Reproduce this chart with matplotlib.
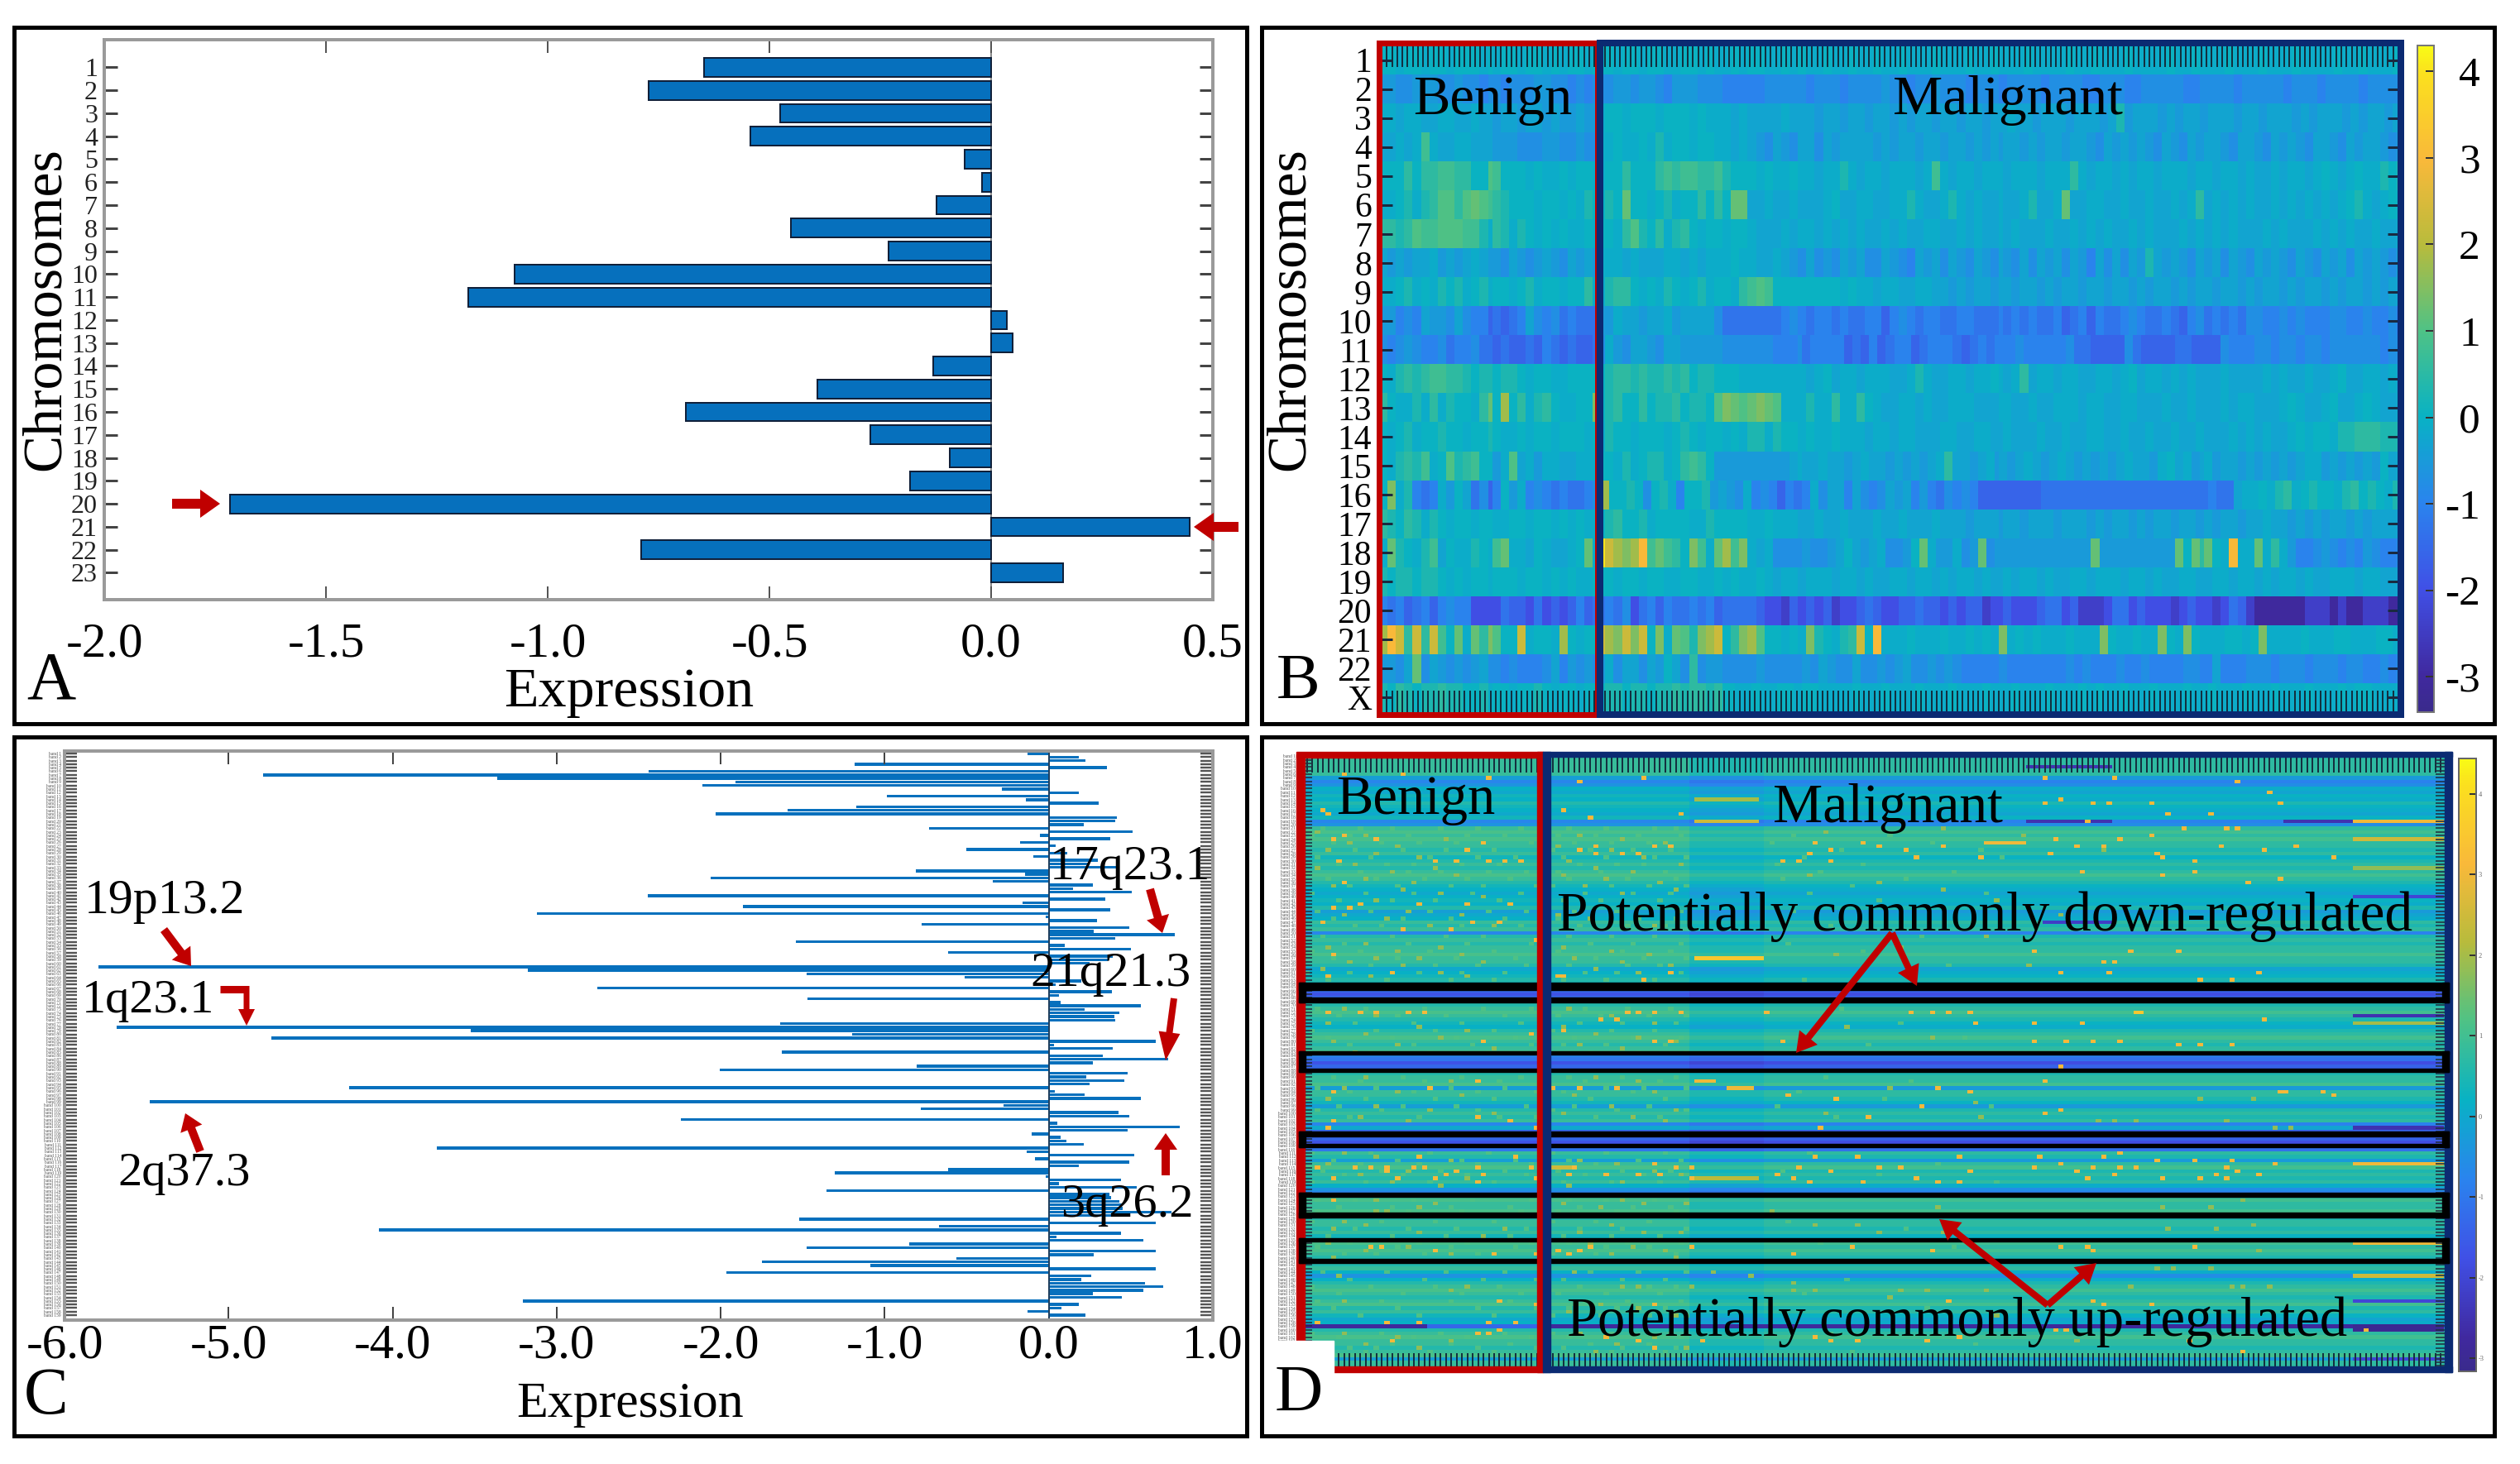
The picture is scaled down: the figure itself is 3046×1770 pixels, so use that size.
import numpy as np
import matplotlib
matplotlib.use("Agg")
import matplotlib.pyplot as plt
from matplotlib.colors import LinearSegmentedColormap
from matplotlib.patches import Rectangle, FancyArrowPatch

plt.rcParams["font.family"] = ["Liberation Serif", "DejaVu Serif"]
plt.rcParams["axes.unicode_minus"] = False

W, H = 3046, 1770
PX = 72 / 100  # one pixel in points

# panel A: mean expression per chromosome
chromosomes = [str(i) for i in range(1, 24)]
chrom_values = [-0.647, -0.773, -0.476, -0.542, -0.06, -0.02, -0.124, -0.451, -0.231, -1.075, -1.18, 0.036,
                0.049, -0.131, -0.391, -0.689, -0.273, -0.093, -0.182, -1.716, 0.447, -0.789, 0.162]
a_ticks = [-2.0, -1.5, -1.0, -0.5, 0.0, 0.5]

# panel C: mean expression per cytoband, top to bottom
band_values = [
    -0.128, 0.183, 0.224, -1.185, 0.352, -2.44, -4.79, -3.36, -1.91, -2.11, -0.284, 0.183, -0.989, -0.142, 0.302,
    -1.176, -1.593, -2.032, 0.416, 0.403, 0.215, -0.728, 0.513, -0.055, 0.375, -0.174, 0.04, -0.503, 0.114, -0.096,
    0.3, 0.25, 0.42, -0.81, -0.146, -2.06, -0.339, 0.27, 0.15, 0.508, -2.444, 0.343, -0.16, -1.863, 0.375, -3.121,
    -0.018, 0.293, -0.773, 0.49, 0.275, 0.769, 0.407, -1.542, 0.096, 0.499, -0.613, 0.39, 0.36, 0.25, -5.794,
    -3.176, -1.474, -0.513, 0.2, 0.04, -2.75, 0.384, 0.06, -1.469, 0.07, 0.563, 0.22, 0.43, 0.4, 0.407, -1.638,
    -5.68, -3.524, -1.2, -4.737, 0.65, 0.03, 0.389, -1.625, 0.33, 0.728, 0.27, -0.805, -2.005, 0.48, 0.229, 0.458,
    0.247, -4.265, 0.037, 0.22, 0.563, -5.483, -0.275, -0.778, 0.426, 0.49, -2.243, 0.05, 0.8, 0.48, -0.105, 0.07,
    0.105, 0.215, -3.73, -0.137, 0.522, -0.082, 0.49, 0.183, -0.613, -1.304, -0.018, 0.44, 0.06, 0.535, -1.355,
    0.37, 0.38, 0.43, 0.45, 0.45, 0.746, 0.4, -1.524, 0.65, -0.668, -4.082, 0.44, 0.046, 0.577, -0.851, -1.478,
    0.65, 0.275, -0.563, -1.748, -1.089, 0.65, -1.963, 0.26, 0.197, 0.586, 0.696, 0.577, 0.27, 0.444, -3.208,
    0.183, 0.078, -0.128, 0.224]
c_ticks = [-6.0, -5.0, -4.0, -3.0, -2.0, -1.0, 0.0, 1.0]

# shared heatmap levels: one letter per cell
LEVELS = dict(a=-3.0, b=-2.4, c=-2.0, d=-1.6, e=-1.3, f=-1.0, g=-0.75, h=-0.5, i=-0.3, j=-0.12, k=0.05, l=0.3,
              m=0.55, n=0.8, o=1.0, p=1.2, q=1.45, r=1.8, s=2.3, t=3.0, u=4.0)

# panel B: chromosome x sample, benign part and malignant part
b_labels = [str(i) for i in range(1, 23)] + ["X"]
b_benign = [
    "kkjkkjkkjkkkjkjkkjkkjkjkkjk", "hhgghhhgghggfggfggghhggfgfg", "jjijjiijjiijiihiihiihihhihh",
    "iijijnjiijjiiihhhggghhgghgg", "kkkmkmmnnmmkkonkkkjkjjkjkkj", "jjkljlmoomoponmlkkkjkkjkjlk",
    "mmlmonnooonnljmljlkjkjkjjkj", "ihihiijhihijihhgihghihgihih", "jjkljkjlkljkljkkjkljkkjkkmj",
    "hhfgfihhgigffdedefigfgefeee", "gfghgffgeffgeededdedfededde", "kjlmlmnnmmlkllkllkjkkjjkkkk",
    "mkjjljmjlkkjmpkrkmjlmkjjkkq", "kjkljkklkkjkklkjjkjkkjkkkjk", "kjlmlnjkolmnkkhjoijhjjiijjj",
    "kqjlfefjhkiegdfkhjfgfefeefg", "mlkmljlkjkkjkkjjkkjkkjkjkjj", "jplkjlnikjjlkjnpjjikjiijkpj",
    "lkllkllkjkjkkjkkkjkkjkjkjjk", "fefdefdfgffcccceddcecdcdfde", "rtsmsmsnkpjpmqokksjkkjrkjkk",
    "hhgipgihghghiggfgfffgifhghg", "lkmlkllmllkkljkkjkklkjkkjkk"]
b_malignant = [
    "kkjkkjkkjjkkjkjjkjkkjjkjkjjkjjkjjkjjkjjjkjjjkjjkjjjkjjjjkjjkjjjkjjjjkjjkjjjkjjjkjjjkjjjjkjjkjjjk",
    "gghhghhgfhhhgggfffffgggggfgggfgggghggfgghgggfgggfggggfggggffgggffgggggffggggfgggggfgggfggggfgggg",
    "jkkjkkkjkkkjkjjjijiiiijiiihiihiihiihihiihiihiihiijiihiiihiiihilhiiihihiihiiihiihiiihihiiihihiihi",
    "jjkjjkjljkkjkkjjijihgihgiigihiiiihihiihiihiihihihiihihiihiihgihihihgihgihiihgiihgihihgiihgihiihgh",
    "jkkmkkkmnmnnmmnlkkkjkjjkjjijjljijjijjjijnjijjijjjijjjijjjmjijjijijjijjjijjijjijiijijjijkjijkjjlkl",
    "klkpkkjkljkkmkmkppiijiijiiijkiijjiijjljiijljijiijiijliijpiijjiijiijiijijmijijijiijijijijijkljijkk",
    "kkjmolkmjlmkjkkjkkjiiijijjijijijiijijiijjiijijiijijiiijiijijijiijijiiijijijijiiijijiiijijijiijiij",
    "jjjijiiijjijijjjkjjiijihgighgihiggihgfihigihgihgihgigihigihfigigihlihihgihigihgihihgihgihigihihgi",
    "jlmmkjkjlkjkljkkjmnonkkkkkkkkjkjjijjiijjiihihiihiihiihihiihiihiihihiihihiihiihihiihihiihihiihihii",
    "hhjiihiijhiiiigeeeeeeefgfeffefeeffdfgfeffeeffeeefefefeefdefdfeefgfeefedfgefefeggffgfgfffggffgffgf",
    "gjhgiihgiihhhhhggggggfffgeffffdedfdeffdefffedefefffgfffffgeeddddgeddddeeddddgfffggfggfggfggggggfgg",
    "klmmlmllmlmkllkkkjjjjjjjjijkijjijjjiijljiijjijjkjijmijjijjiijjijkijjijijiiijiiiijijiijiijkiijjiji",
    "klmkkmkllmkllkoqpopqpojjjljjmjjmkjiijjijiijjjiiijjiijiijjjijjiijjiiijiijiiijijjiiijkjiijkiijkjiij",
    "jlkkjkkkjklkjkkjkjlljlkkjkjjkjjjijjijjiiijjiijjiijiiijiijiijjiijiijiijiijiiijijijiijkjkkjllmmmlll",
    "kkjljklljkmnmkhhhhhhhhhijiijiihijiihihihijmiihijhihijihijihihihijiihjkijhijhiihihihihijjhihihihkij",
    "rkklkgkljfkklhihgjfgfdfefjgiifigfgihifhfegfgfdddddddeeeeeeeeeeeeeeeeeeeefeeijjkjlmjklkkjlmklkjl",
    "klmkkljkkkkjjlkkkkjjkjjjiijiijiiijiijiiijiiihiiihiihiiihiiihihiihihiihiihihiihiijiihihihiihihiiii",
    "usrqrtnpnmkqnjprnqjijgggghgghikihijgghkpjhhjghpghhhhhhhhhhhhphhhhhhhhhpkpmpkjtjjpjmjhffghgfgfhgffg",
    "kkjkkjkkjjkkjjkjkjjkjijjijjjijjijiijjijjijijjijiijijjijiijjijjjijjijiijjiijjijjijijjijiijjjijjiii",
    "efegcefdfeefefdeeeedccbdcdcdbccdedccddeddcdcddbccdcccdeecdbbbceecdcccbcdccbcedbaaaaaabbbabaabbbaa",
    "srqsqskqjpolqrskmqrokkjkjqlkjlmsktjjjkjjjkjjkjkjqjkjkjjjkjjjqkjjkjjqkjqkjjjkkjkqjjjjkjjjkkjjjkkj",
    "hjgiigihkigmghhgggghggggghgihggigghghigghghgfffffgfffffffgfgfffgffgffffggffifffgggfgggfgggfggffgfg",
    "kllkllkllmlmmlmkkjjkjjkkjkkjjjjkjjjkjjjkjjjkjjjkjjjkjjjkjjjkjkjjkjjjkjjjkjjkjjjkjjjkjjjkjjjkjkkjjjk"]
b_cbar_ticks = [4, 3, 2, 1, 0, -1, -2, -3]

# panel D: cytoband x sample, base level per row, then the stripes and single cells that stand out
d_row_levels = ("mmmmmm" "hfg" "jikjlkjik" "fg" "mnmnm" "mlmklml" "mnmlk" "jijkj" "lhij" "mlm" "f" "lml" "mmnmml"
                "ijkl" "kedcde" "lmnmlkjlmnmlmn" "fecdf" "l" "mmnhmmlkhlmlmfi" "dcdcde" "mlhmnlmlmjgf" "mnmmnl"
                "lmmlmk" "mnmnml" "klmjgjlmnmlmnlmkijdlmnmmlmnhmmm")
d_n_cols = 215
# first col, last col, level shift of the sample groups
d_groups = [(0, 73, 0.3), (73, 87, 0.0), (87, 197, 0.2), (197, 215, 0.2)]
# row, first col, last col, value
d_stripes = [(12, 74, 86, 2.0), (18, 74, 86, 2.5), (56, 74, 87, 3.5), (3, 136, 152, -2.5), (18, 136, 152, -2.5),
             (18, 184, 197, -2.5), (18, 197, 214, 3.0), (23, 197, 214, 2.5), (24, 128, 136, 3.0),
             (31, 197, 214, 1.8), (39, 197, 214, -2.0), (46, 139, 152, -2.2), (71, 156, 158, 3.5),
             (72, 197, 214, -2.5), (74, 197, 214, 2.0), (103, 197, 214, -2.5), (113, 197, 214, 3.0),
             (135, 197, 214, 3.0), (144, 197, 214, 2.5), (151, 197, 214, -2.0), (158, 1, 24, -2.8),
             (158, 47, 197, -2.8), (158, 197, 214, -3.0), (159, 197, 214, -3.0), (167, 197, 214, -2.0),
             (90, 74, 78, 3.0), (92, 80, 85, 3.0), (114, 47, 52, 2.5), (117, 74, 86, 2.2)]
d_orange = [(5, 8), (5, 19), (6, 35), (7, 52), (6, 64), (15, 4), (16, 5), (16, 71), (15, 49), (17, 54), (22, 8),
            (23, 14), (23, 6), (24, 34), (26, 31), (29, 7), (29, 29), (29, 35), (29, 38), (29, 41), (29, 25),
            (25, 55), (25, 66), (25, 69), (26, 52), (27, 55), (27, 63), (27, 60), (24, 96), (26, 99), (24, 105),
            (25, 108), (26, 113), (27, 95), (29, 90), (29, 93), (29, 99), (35, 8), (41, 11), (41, 22), (41, 31),
            (41, 39), (46, 4), (42, 6), (42, 9), (46, 32), (46, 37), (48, 19), (48, 28), (51, 44), (55, 6),
            (60, 17), (61, 5), (61, 48), (61, 49), (60, 69), (62, 64), (71, 11), (71, 14), (71, 20), (71, 23),
            (71, 5), (71, 61), (71, 63), (71, 66), (71, 71), (71, 87), (73, 56), (73, 59), (79, 90), (79, 66),
            (79, 69), (79, 34), (77, 43), (76, 49), (6, 139), (6, 152), (7, 175), (10, 181), (13, 139), (12, 142),
            (13, 148), (13, 151), (13, 159), (16, 170), (16, 162), (13, 183), (18, 147), (20, 165), (20, 173),
            (20, 175), (22, 159), (23, 141), (23, 153), (25, 145), (25, 150), (25, 172), (26, 180), (27, 160),
            (28, 161), (29, 167), (32, 167), (33, 161), (35, 177), (34, 183), (27, 140), (28, 193), (25, 186),
            (32, 146), (28, 127), (25, 120), (28, 115), (26, 113), (57, 152), (57, 150), (60, 151), (60, 142),
            (62, 168), (62, 174), (60, 179), (54, 137), (54, 155), (54, 164), (71, 114), (71, 118), (71, 121),
            (71, 125), (73, 180), (74, 146), (74, 137), (74, 126), (79, 153), (79, 148), (79, 143), (79, 137),
            (80, 164), (80, 168), (80, 174), (86, 142), (90, 33), (93, 6), (92, 24), (92, 59), (92, 52), (92, 47),
            (94, 91), (95, 100), (101, 39), (100, 33), (101, 6), (100, 106), (103, 97), (103, 5), (103, 44),
            (111, 22), (111, 40), (111, 96), (111, 104), (114, 16), (114, 10), (114, 13), (114, 21), (114, 23),
            (114, 3), (114, 43), (115, 29), (114, 33), (116, 34), (116, 27), (115, 16), (114, 51), (113, 66),
            (114, 70), (114, 73), (116, 50), (116, 57), (116, 63), (116, 67), (117, 73), (114, 93), (115, 99),
            (114, 108), (114, 112), (116, 89), (117, 92), (118, 95), (117, 6), (117, 18), (117, 25), (118, 33),
            (117, 44), (118, 105), (123, 6), (136, 13), (136, 15), (137, 25), (138, 36), (138, 44), (137, 52),
            (136, 54), (138, 50), (137, 48), (136, 73), (138, 92), (136, 103), (151, 37), (152, 44), (152, 66),
            (157, 3), (157, 16), (157, 22), (157, 35), (157, 40), (160, 33), (160, 35), (159, 37), (162, 17),
            (162, 63), (164, 66), (162, 75), (162, 99), (162, 104), (161, 57), (161, 96), (90, 139), (93, 183),
            (93, 184), (93, 191), (94, 193), (93, 125), (92, 119), (98, 142), (99, 139), (97, 116), (111, 123),
            (111, 138), (111, 150), (110, 153), (112, 160), (112, 167), (112, 174), (113, 142), (114, 137),
            (115, 125), (114, 148), (114, 153), (114, 156), (114, 173), (113, 182), (115, 145), (116, 152),
            (117, 147), (117, 161), (117, 168), (116, 171), (117, 173), (115, 175), (116, 179), (117, 115),
            (118, 119), (118, 123), (136, 142), (136, 147), (137, 148), (136, 167), (137, 118), (151, 121),
            (152, 159), (151, 148), (152, 150), (159, 141), (159, 143), (162, 166), (161, 123), (162, 117),
            (165, 176), (159, 199)]
d_green = [(21, 3), (22, 12), (23, 27), (24, 9), (25, 18), (26, 5), (27, 14), (28, 22), (30, 10), (31, 3), (31, 25),
           (32, 17), (33, 29), (34, 12), (35, 21), (36, 6), (37, 19), (38, 26), (39, 34), (40, 14), (43, 20), (44, 8),
           (44, 30), (45, 16), (47, 24), (47, 36), (52, 12), (53, 5), (53, 26), (54, 18), (55, 30), (56, 14), (56, 22),
           (57, 9), (57, 34), (58, 19), (59, 4), (60, 26), (61, 13), (61, 31), (22, 52), (23, 60), (24, 68), (25, 48),
           (26, 58), (28, 64), (29, 50), (30, 71), (31, 55), (32, 62), (33, 49), (34, 57), (35, 67), (36, 53), (37, 70),
           (38, 60), (44, 48), (45, 54), (47, 66), (53, 49), (54, 58), (55, 65), (56, 51), (57, 60), (58, 69), (59, 55),
           (60, 63), (70, 8), (72, 14), (74, 5), (75, 22), (76, 31), (77, 12), (78, 26), (79, 6), (80, 18), (81, 36),
           (82, 10), (70, 50), (72, 58), (74, 66), (75, 49), (77, 55), (78, 63), (79, 70), (80, 52), (81, 60), (89, 12),
           (90, 28), (92, 8), (93, 18), (94, 30), (95, 5), (97, 14), (98, 24), (99, 36), (100, 11), (101, 20), (89, 55),
           (90, 63), (93, 66), (94, 51), (97, 58), (98, 70), (99, 49), (100, 62), (101, 68), (110, 8), (111, 14),
           (112, 28), (113, 5), (115, 20), (116, 11), (117, 31), (118, 17), (119, 26), (112, 52), (113, 59), (115, 66),
           (116, 71), (118, 60), (119, 50), (123, 14), (124, 25), (125, 22), (126, 14), (126, 16), (127, 26), (123, 60),
           (124, 49), (125, 56), (124, 64), (124, 72), (129, 8), (130, 12), (131, 6), (132, 22), (133, 34), (131, 38),
           (130, 58), (132, 52), (132, 64), (132, 71), (130, 96), (132, 108), (135, 5), (136, 20), (137, 12), (138, 28),
           (139, 6), (135, 54), (136, 62), (137, 68), (138, 58), (139, 70), (143, 51), (144, 7), (143, 77), (144, 84),
           (147, 60), (147, 63), (147, 73), (148, 92), (148, 96), (148, 112), (148, 28), (147, 31), (151, 8), (152, 56),
           (153, 63), (154, 50), (155, 70), (160, 8), (161, 18), (162, 28), (163, 12), (164, 22), (165, 5), (160, 52),
           (161, 66), (163, 59), (164, 72), (165, 55), (95, 168), (95, 178), (94, 193), (100, 127), (101, 149),
           (101, 152), (101, 156), (101, 173), (103, 182), (103, 185), (125, 161), (125, 170), (125, 119), (123, 176),
           (131, 162), (131, 171), (130, 178), (137, 179), (136, 142), (142, 160), (142, 163), (142, 170), (147, 155),
           (147, 174), (147, 176), (147, 181), (148, 128), (148, 117), (33, 95), (35, 108), (37, 120), (40, 130),
           (44, 142), (50, 128), (53, 112), (55, 100), (58, 136), (75, 102), (78, 118), (92, 110), (96, 126), (99, 98),
           (126, 88), (130, 104), (132, 120), (146, 92), (150, 110), (155, 130), (162, 145), (20, 120), (21, 98),
           (22, 135), (26, 150)]
# row -> cols of the fainter yellow-green cells
d_light = {
    20: [4, 11, 17, 26, 33, 41, 50, 57, 66, 70], 22: [2, 9, 20, 31, 38, 48, 55, 63, 71, 92, 110],
    24: [6, 15, 22, 29, 43, 51, 58, 65, 88, 118], 26: [10, 19, 27, 36, 47, 54, 62, 69, 101, 127],
    28: [3, 13, 24, 33, 40, 49, 57, 66, 72, 94, 131], 30: [7, 16, 21, 30, 37, 52, 59, 64, 89, 105],
    32: [1, 11, 20, 26, 35, 42, 48, 56, 68, 97, 122], 34: [5, 14, 23, 31, 39, 50, 61, 70, 90, 113],
    36: [9, 18, 28, 34, 44, 47, 58, 65, 72, 103], 38: [2, 12, 21, 32, 41, 53, 62, 69, 95, 128],
    40: [7, 17, 25, 37, 49, 56, 67, 108], 43: [3, 13, 24, 35, 42, 51, 59, 71, 92], 45: [6, 19, 28, 38, 48, 63, 70],
    47: [10, 15, 30, 41, 52, 61, 68, 99], 50: [4, 17, 27, 34, 50, 58, 66, 116], 52: [8, 20, 31, 43, 54, 62, 71, 91],
    54: [2, 11, 24, 36, 48, 60, 69, 105], 56: [6, 18, 29, 40, 55, 64, 72], 58: [13, 25, 33, 42, 50, 61, 67, 121],
    60: [1, 9, 22, 30, 38, 53, 59, 71], 62: [5, 16, 28, 36, 49, 57, 66, 94],
    70: [3, 12, 23, 34, 43, 53, 61, 69, 101], 72: [7, 18, 27, 38, 48, 56, 65, 72], 74: [10, 21, 30, 41, 52, 60, 70, 112],
    76: [2, 14, 25, 36, 47, 58, 66, 96], 78: [5, 17, 29, 40, 51, 62, 71, 124], 80: [9, 21, 32, 43, 49, 57, 68, 106],
    82: [3, 13, 24, 35, 46, 54, 63, 72], 89: [6, 19, 30, 41, 50, 60, 70, 98], 90: [11, 23, 37, 53, 67, 114],
    92: [3, 14, 28, 38, 57, 64, 72], 93: [9, 21, 33, 44, 49, 62, 93], 95: [1, 12, 25, 36, 54, 68, 109],
    97: [7, 19, 29, 42, 51, 65, 89, 129], 98: [3, 15, 33, 47, 59, 72], 100: [9, 22, 37, 44, 55, 67, 100],
    110: [2, 13, 24, 35, 47, 57, 68, 95], 112: [6, 18, 30, 40, 50, 63, 71], 113: [11, 22, 33, 43, 55, 66, 119],
    115: [4, 15, 26, 38, 48, 60, 69, 90], 116: [8, 19, 31, 42, 53, 64, 72, 108], 118: [2, 12, 24, 36, 49, 58, 67, 130],
    123: [3, 10, 21, 32, 43, 50, 57, 66, 72], 125: [7, 17, 28, 39, 52, 62, 69], 126: [3, 20, 30, 41, 48, 59, 70],
    129: [2, 15, 25, 36, 47, 55, 65, 91], 131: [10, 20, 29, 42, 52, 60, 72, 113], 133: [5, 17, 27, 39, 49, 58, 67],
    135: [9, 22, 31, 43, 50, 61, 71, 97], 136: [3, 18, 28, 40, 57, 65, 122], 138: [8, 14, 23, 33, 47, 55, 70],
    143: [4, 16, 27, 38, 54, 63, 72], 145: [9, 23, 34, 44, 49, 60, 68, 102], 147: [2, 13, 25, 37, 52, 65, 70],
    149: [7, 19, 30, 41, 48, 57, 67, 94], 151: [3, 15, 28, 39, 53, 61, 71], 153: [6, 18, 33, 44, 50, 59, 68, 117],
    155: [11, 22, 36, 47, 56, 65, 72], 160: [2, 15, 26, 38, 47, 58, 69, 99], 161: [7, 21, 31, 43, 50, 62, 71],
    163: [4, 17, 28, 39, 54, 65, 126], 164: [9, 14, 33, 44, 49, 60, 70], 165: [12, 24, 36, 46, 58, 68, 103]}
d_cbar_ticks = [4, 3, 2, 1, 0, -1, -2, -3]

# colours taken from the colour bar of panel B
cbar_stops = [(0.0, "#3a2a8c"), (0.054, "#40299f"), (0.184, "#4050e6"), (0.314, "#2a84ee"), (0.443, "#08b2c4"),
              (0.573, "#4fc285"), (0.702, "#b8bb3c"), (0.83, "#f9b93a"), (0.96, "#fbe01e"), (1.0, "#f9fb15")]
parula_like = LinearSegmentedColormap.from_list("parula_like", cbar_stops)

BAR_BLUE = "#0670bd"
RED = "#c00000"
NAVY = "#0b2a72"

fig = plt.figure(figsize=(W / 100, H / 100), dpi=100)


def axes_px(x0, y0, x1, y1):
    return fig.add_axes([x0 / W, 1 - y1 / H, (x1 - x0) / W, (y1 - y0) / H])


def stretch(row, n):
    idx = (np.arange(n) * len(row) / n).astype(int)
    return [LEVELS[row[i]] for i in idx]


def style_spines(ax, color="#9a9a9a", width=4):
    for s in ax.spines.values():
        s.set_color(color)
        s.set_linewidth(width * PX)


# panel A
ax_a = axes_px(126, 48, 1466, 725)
ax_a.barh(range(1, 24), chrom_values, height=0.82, color=BAR_BLUE, edgecolor="#10203a", linewidth=2 * PX)
ax_a.axvline(0, color="#8a8a8a", lw=2 * PX, zorder=0)
ax_a.set_xlim(-2.0, 0.5)
ax_a.set_ylim(24.17, -0.2)
ax_a.set_xticks(a_ticks, [f"{t:.1f}" for t in a_ticks])
ax_a.set_yticks(range(1, 24), chromosomes)
ax_a.tick_params(axis="x", direction="in", top=True, length=16 * PX, width=2 * PX, color="#555555",
                 labelsize=42.5, pad=20)
ax_a.tick_params(axis="y", direction="in", right=True, length=16 * PX, width=3 * PX, color="#444444",
                 labelsize=23, pad=8 * PX, labelcolor="#222222")
style_spines(ax_a)

# panel C
n_bands = len(band_values)
c_top, c_bottom = 908, 1596
first_y, last_y = 911, 1590
band_step = (last_y - first_y) / (n_bands - 1)
ax_c = axes_px(78, c_top, 1466, c_bottom)
ax_c.barh(range(n_bands), band_values, height=0.8, color=BAR_BLUE, linewidth=0)
ax_c.axvline(0, color="#20405f", lw=2 * PX)
ax_c.set_xlim(-6.0, 1.0)
ax_c.set_ylim(n_bands - 1 + (c_bottom - last_y) / band_step, -(first_y - c_top) / band_step)
ax_c.set_xticks(c_ticks, [f"{t:.1f}" for t in c_ticks])
ax_c.set_yticks(range(n_bands), [f"band {i + 1}" for i in range(n_bands)])
ax_c.tick_params(axis="x", direction="in", top=True, length=16 * PX, width=2 * PX, color="#444444",
                 labelsize=42.5, pad=3)
ax_c.tick_params(axis="y", direction="in", right=True, length=15 * PX, width=2.4 * PX, color="#555555",
                 labelsize=4, pad=3, labelcolor="#555555")
style_spines(ax_c)

# panel B
b_matrix = np.array([stretch(ben, 52) + stretch(mal, 192) for ben, mal in zip(b_benign, b_malignant)])
b_vmin, b_vmax = -3.41, 4.3
ax_b = axes_px(1667, 55, 2902, 861)
im_b = ax_b.imshow(b_matrix, cmap=parula_like, vmin=b_vmin, vmax=b_vmax, aspect="auto", interpolation="nearest",
                   extent=(0, 244, 23, 0))
ax_b.set_yticks(np.arange(23) + 0.5, b_labels)
ax_b.set_xticks(np.linspace(0.6, 243.4, 197), [])
ax_b.tick_params(axis="x", direction="in", top=True, length=26 * PX, width=2 * PX, color="#123040")
ax_b.tick_params(axis="y", direction="in", right=True, length=16 * PX, width=3 * PX, color="#1a2a40",
                 labelsize=30, pad=9 * PX)
for s in ax_b.spines.values():
    s.set_visible(False)

cax_b = axes_px(2922, 55, 2942, 861)
cb_b = fig.colorbar(im_b, cax=cax_b, ticks=b_cbar_ticks)
cb_b.ax.tick_params(direction="in", length=10 * PX, width=2 * PX, color="#333333", labelsize=37, pad=56 * PX)
for lab in cb_b.ax.get_yticklabels():
    lab.set_ha("right")
cb_b.outline.set_edgecolor("#777777")
cb_b.outline.set_linewidth(2 * PX)

# panel D
d_vmin, d_vmax = -3.16, 4.44
d_matrix = np.array([[LEVELS[c]] * d_n_cols for c in d_row_levels], dtype=float)
for c0, c1, shift in d_groups:
    d_matrix[:, c0:c1] += shift
for r, c0, c1, val in d_stripes:
    d_matrix[r, c0:c1] = val
for r, cols in d_light.items():
    d_matrix[r, cols] = 1.2
for r, c in d_green:
    d_matrix[r, c] = 1.8
for r, c in d_orange:
    d_matrix[r, c] = 3.1
n_rows_d = d_matrix.shape[0]
ax_d = axes_px(1570, 912, 2960, 1658)
im_d = ax_d.imshow(d_matrix, cmap=parula_like, vmin=d_vmin, vmax=d_vmax, aspect="auto", interpolation="nearest",
                   extent=(0, d_n_cols, n_rows_d, 0))
ax_d.set_xticks(np.arange(d_n_cols) + 0.5, [])
ax_d.set_yticks(np.arange(n_rows_d) + 0.5, [f"band {i + 1}" for i in range(n_rows_d)])
ax_d.tick_params(axis="x", direction="in", top=True, length=22 * PX, width=2 * PX, color="#143040")
ax_d.tick_params(axis="y", direction="in", right=True, length=16 * PX, width=1.6 * PX, color="#203040",
                 labelsize=4, pad=3, labelcolor="#555555")
for s in ax_d.spines.values():
    s.set_visible(False)

cax_d = axes_px(2972, 917, 2993, 1658)
cb_d = fig.colorbar(im_d, cax=cax_d, ticks=d_cbar_ticks)
cb_d.ax.tick_params(direction="in", length=8 * PX, width=2 * PX, color="#333333", labelsize=6, pad=2,
                    labelcolor="#666666")
cb_d.outline.set_edgecolor("#666666")
cb_d.outline.set_linewidth(2 * PX)

# overlay in pixel coordinates for frames, labels and arrows
over = fig.add_axes([0, 0, 1, 1], zorder=10)
over.set_xlim(0, W)
over.set_ylim(H, 0)
over.axis("off")
over.patch.set_alpha(0)


def frame(x0, y0, x1, y1, color="black", lw=5, z=3):
    over.add_patch(Rectangle((x0, y0), x1 - x0, y1 - y0, fill=False, ec=color, lw=lw * PX, zorder=z))


def label(x, y, s, size, **kw):
    over.text(x, y, s, fontsize=size, ha="center", va="center", color="black", zorder=8, **kw)


def arrow(p0, p1, tail=10, head=28, head_len=20):
    over.add_patch(FancyArrowPatch(p0, p1, shrinkA=0, shrinkB=0, color=RED, lw=0, zorder=7,
                                   arrowstyle=f"simple,tail_width={tail * PX},head_width={head * PX},"
                                              f"head_length={head_len * PX}"))


for box in [(17, 33, 1507, 875), (1525, 33, 3015, 875), (17, 891, 1507, 1736), (1525, 891, 3015, 1736)]:
    frame(*box)

# panel B boxes
frame(1667, 52, 1931, 864, RED, 7, 4)
frame(1934, 52, 2902, 864, NAVY, 8, 4)

# panel D black boxes: top band, bottom band
for top0, top1, bot0, bot1 in [(1188, 1197, 1206, 1212), (1271, 1275, 1292, 1296), (1368, 1374, 1383, 1387),
                               (1442, 1447, 1466, 1472), (1497, 1501, 1522, 1527)]:
    over.add_patch(Rectangle((1570, top0), 1390, top1 - top0, color="black", zorder=5))
    over.add_patch(Rectangle((1570, bot0), 1390, bot1 - bot0, color="black", zorder=5))
    over.add_patch(Rectangle((1570, top0), 8, bot1 - top0, color="black", zorder=5))
    over.add_patch(Rectangle((2952, top0), 8, bot1 - top0, color="black", zorder=5))

# panel D group boxes
over.add_patch(Rectangle((1567, 912), 10, 746, color=RED, zorder=4))
over.add_patch(Rectangle((1567, 909), 298, 7, color=RED, zorder=4))
over.add_patch(Rectangle((1567, 1652), 298, 7, color=RED, zorder=4))
over.add_patch(Rectangle((1858, 909), 7, 750, color=RED, zorder=6))
over.add_patch(Rectangle((1865, 909), 9, 750, color=NAVY, zorder=6))
over.add_patch(Rectangle((1865, 909), 1099, 6, color=NAVY, zorder=4))
over.add_patch(Rectangle((1865, 1652), 1099, 7, color=NAVY, zorder=4))
over.add_patch(Rectangle((2955, 909), 9, 750, color=NAVY, zorder=4))
over.add_patch(Rectangle((1538, 1621), 74, 48, color="white", zorder=6))

# axis titles
label(55, 374, "Chromosomes", 48.7, rotation=90)
label(1559, 374, "Chromosomes", 48.7, rotation=90)
label(760, 837, "Expression", 49)
label(762, 1698, "Expression", 44.6)

# panel letters
label(62, 825, "A", 59)
label(1569, 825, "B", 57)
label(56, 1690, "C", 58)
label(1570, 1686, "D", 58)

# group names
label(1804, 121, "Benign", 48)
label(2427, 121, "Malignant", 48.7)
label(1711, 968, "Benign", 48)
label(2282, 977, "Malignant", 48.7)
label(2399, 1108, "Potentially commonly down-regulated", 48.4)
label(2366, 1598, "Potentially commonly up-regulated", 48)

# band names of panel C
label(199, 1090, "19p13.2", 43)
label(179, 1210, "1q23.1", 42)
label(223, 1419, "2q37.3", 42)
label(1366, 1049, "17q23.1", 43)
label(1343, 1178, "21q21.3", 43)
label(1362, 1457, "3q26.2", 42)

# arrows of panel A
arrow((208, 609), (266, 609), 12, 34, 24)
arrow((1497, 637), (1443, 637), 12, 34, 24)

# arrows of panel C
arrow((198, 1124), (231, 1168))
over.plot([266, 298], [1196, 1196], color=RED, lw=9 * PX, solid_capstyle="butt", zorder=7)
arrow((298, 1192), (298, 1240), 7, 20, 20)
arrow((242, 1392), (224, 1346))
arrow((1390, 1075), (1405, 1128))
arrow((1419, 1207), (1409, 1282), 8, 26, 34)
arrow((1409, 1421), (1409, 1370))

# arrows of panel D
arrow((2287, 1128), (2171, 1273), 8, 28, 24)
arrow((2287, 1128), (2317, 1192), 8, 28, 24)
arrow((2475, 1578), (2344, 1474), 8, 28, 24)
arrow((2475, 1578), (2534, 1527), 8, 28, 24)

fig.savefig("out.png", dpi=100)
